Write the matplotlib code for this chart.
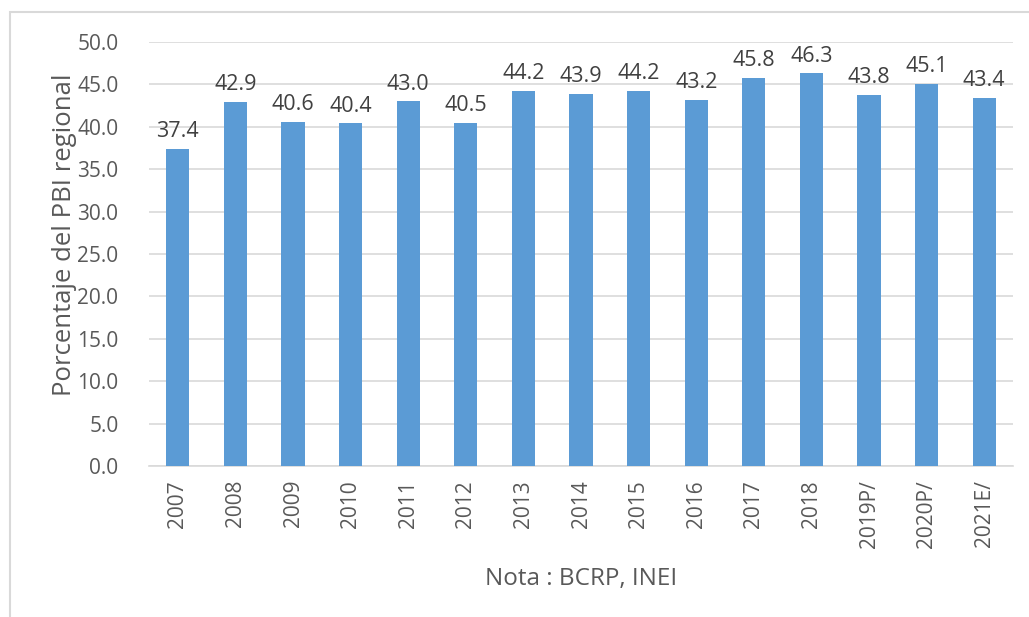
import matplotlib.pyplot as plt
import matplotlib.patches as mpatches

years = ['2007', '2008', '2009', '2010', '2011', '2012', '2013', '2014',
         '2015', '2016', '2017', '2018', '2019P/', '2020P/', '2021E/']
values = [37.4, 42.9, 40.6, 40.4, 43.0, 40.5, 44.2, 43.9,
          44.2, 43.2, 45.8, 46.3, 43.8, 45.1, 43.4]

plt.rcParams['font.family'] = ['Open Sans', 'DejaVu Sans']
gray = '#595959'

fig = plt.figure(figsize=(10.29, 6.17), dpi=100)
ax = fig.add_axes([149/1029, 1 - 466/617, (1013 - 149)/1029, (466 - 42)/617])

# marco exterior del gráfico
fig.patches.append(mpatches.Rectangle((10/1029, -0.1), 1.2, 1 - 12/617 + 0.1,
                                      transform=fig.transFigure, fill=False,
                                      edgecolor='#d9d9d9', linewidth=1.5))

x = range(len(years))
ax.bar(x, values, width=0.4, color='#5b9bd5', zorder=3)
for i, v in enumerate(values):
    ax.text(i, v + 0.8, f'{v:.1f}', ha='center', va='bottom',
            fontsize=15.5, color='#404040')

ax.set_xlim(-0.5, len(years) - 0.5)
ax.set_ylim(0, 50)
ax.set_yticks([i * 5 for i in range(11)])
ax.set_yticklabels([f'{i * 5:.1f}' for i in range(11)])
ax.set_xticks(list(x))
ax.set_xticklabels(years, rotation=90)
ax.tick_params(axis='both', length=0, labelsize=15, labelcolor=gray)
ax.tick_params(axis='y', pad=22)
ax.tick_params(axis='x', pad=10)
ax.grid(axis='y', color='#d9d9d9', linewidth=1.2, zorder=0)
for s in ['top', 'right', 'left']:
    ax.spines[s].set_visible(False)
ax.spines['bottom'].set_color('#d9d9d9')
ax.spines['bottom'].set_linewidth(1.2)

ax.set_ylabel('Porcentaje del PBI regional', fontsize=18.5, color=gray)
ax.yaxis.set_label_coords(-0.083, 0.545)
ax.set_xlabel('Nota : BCRP, INEI', fontsize=17.5, color=gray, labelpad=14)

fig.savefig('out.png', dpi=100)
